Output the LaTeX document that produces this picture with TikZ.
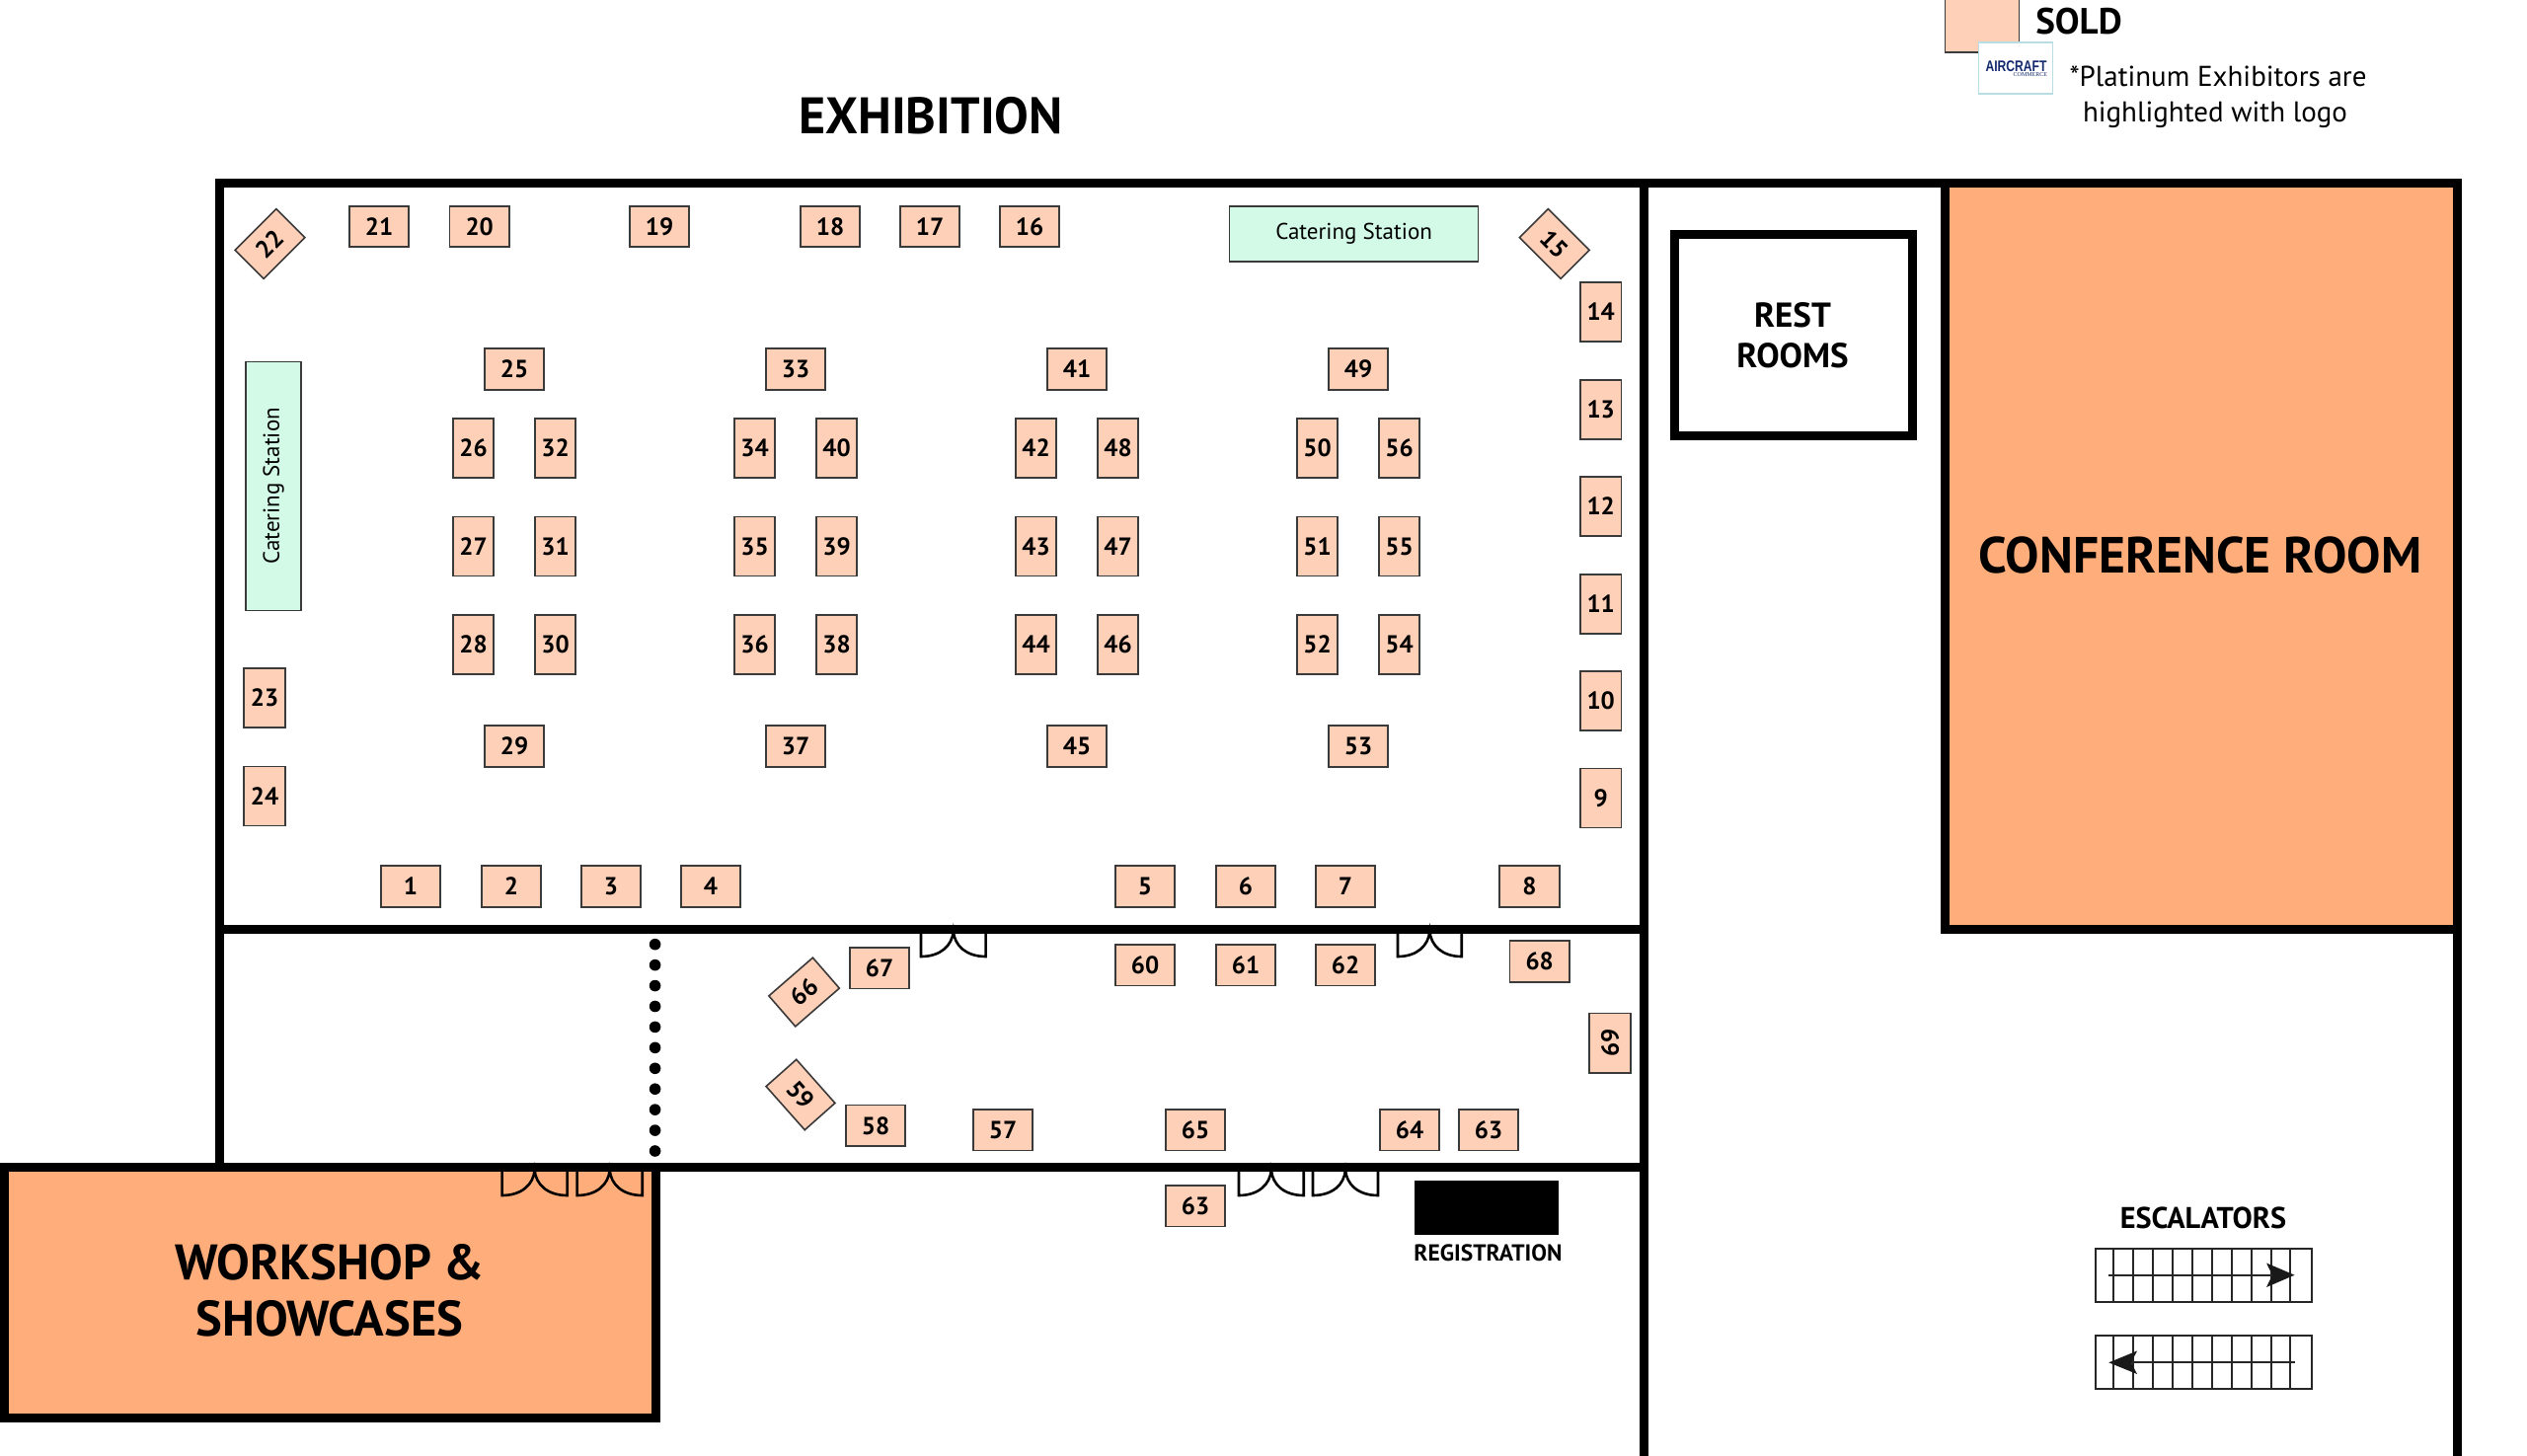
\documentclass[tikz,border=0pt]{standalone}
\usepackage{fontspec}
\setmainfont{PT Sans}
\newfontfamily\logofont[FakeStretch=0.78]{Liberation Sans}
\newfontfamily\logosub{Liberation Serif}
\definecolor{stallfill}{HTML}{FFD0B8}
\definecolor{stalledge}{HTML}{3A3A3A}
\definecolor{cater}{HTML}{D2FAE7}
\definecolor{roomfill}{HTML}{FFAD7A}
\definecolor{logoedge}{HTML}{B8DDE2}
\definecolor{navy}{HTML}{14296E}
\newcommand{\fs}[1]{\fontsize{#1}{#1}\selectfont}
\tikzset{
  every node/.style={inner sep=0pt,outer sep=0pt},
  stall/.style={draw=stalledge,fill=stallfill,line width=1.6pt,font=\fs{25}\bfseries,align=center},
  hstall/.style={stall,minimum width=60.5pt,minimum height=41.5pt},
  vstall/.style={stall,minimum width=41.5pt,minimum height=60pt},
  cstall/.style={stall,minimum width=59pt,minimum height=41pt},
  catering/.style={draw=stalledge,fill=cater,line width=1.6pt,font=\fs{23}},
  wall/.style={draw=black,line width=9pt,line cap=butt,line join=miter},
  door/.style={draw=black,line width=2.6pt,line join=miter},
  escal/.style={draw=black!85,line width=2pt}
}
\newcommand{\doors}[3]{% left, right, bottom; the leaves reach the wall at the top
  \pgfmathsetmacro{\mm}{(#1+#2)/2}
  \pgfmathsetmacro{\rx}{(#2-#1)/2}
  \pgfmathsetmacro{\tp}{#3-26}
  \draw[door] (#1,\tp) -- (#1,#3) .. controls (#1+0.6*\rx,#3) and (\mm-1,#3-11) .. (\mm,\tp)
     .. controls (\mm+1,#3-11) and (#2-0.6*\rx,#3) .. (#2,#3) -- (#2,\tp);
}
\begin{document}
\begin{tikzpicture}[x=1pt,y=-1pt]
\useasboundingbox (0,0) rectangle (2560,1475);
% rooms
\fill[roomfill] (1970,185) rectangle (2489,941.5);
\fill[roomfill] (3,1182.5) rectangle (664,1436);
% walls
\draw[wall] (222,1182.5) -- (222,185) -- (2489,185) -- (2489,1475);
\draw[wall] (1665,185) -- (1665,1475);
\draw[wall] (222,941.5) -- (1665,941.5);
\draw[wall] (1970,185) -- (1970,941.5) -- (2489,941.5);
\draw[wall] (0,1182.5) -- (1665,1182.5);
\draw[wall] (4.3,1178) -- (4.3,1436) -- (664,1436) -- (664,1178);
\draw[wall] (1696.5,237.5) rectangle (1937,441);
% room labels
\node[font=\fs{51.5}\bfseries] (conf) at (2229,562) {CONFERENCE ROOM};
\node[font=\fs{50.5}\bfseries,align=center] (work) at (334,1307.5) {WORKSHOP \&\\[6.5pt]SHOWCASES};
\node[font=\fs{35}\bfseries,align=center] (rest) at (1816,339.5) {REST\\[6pt]ROOMS};
\node[font=\fs{52}\bfseries] (title) at (943,117) {EXHIBITION};
% partition dots
\foreach \i in {0,...,10} \fill[black] (663.6,956.7+\i*20.93) circle (5.8pt);
% doors
\doors{508.6}{574.6}{1211}
\doors{584.6}{650.7}{1211}
\doors{933}{998.6}{969}
\doors{1416}{1480.7}{969}
\doors{1255}{1320.7}{1211}
\doors{1330}{1396}{1211}
% catering
\node[catering,minimum width=252pt,minimum height=56pt] (catertop) at (1371.6,237) {Catering Station};
\node[catering,minimum width=252pt,minimum height=56pt,rotate=90] (caterleft) at (277,492.3) {Catering Station};
% horizontal stalls
\foreach \n/\x/\y in {21/384/229.5,20/485.7/229.5,19/668/229.5,18/841/229.5,17/942/229.5,16/1043/229.5,
  25/521/374,33/806/374,41/1091/374,49/1376/374,
  29/521/756,37/806/756,45/1091/756,53/1376/756,
  1/416/898,2/518/898,3/619/898,4/720/898,5/1160/898,6/1262/898,7/1363/898,8/1549.5/898,
  60/1160/977.7,61/1262/977.7,62/1363/977.7,68/1559.7/974,67/891/980.7,
  58/887/1140.3,57/1016/1144.7,65/1211/1144.7,64/1428/1144.7,63/1508/1144.7}
  \node[hstall] (s\n) at (\x,\y) {\n};
\node[hstall] (s63b) at (1211,1221.7) {63};
% vertical stalls
\foreach \n/\x/\y in {26/479.5/454,27/479.5/553.5,28/479.5/653,32/562.5/454,31/562.5/553.5,30/562.5/653,
  34/764.5/454,35/764.5/553.5,36/764.5/653,40/847.5/454,39/847.5/553.5,38/847.5/653,
  42/1049.5/454,43/1049.5/553.5,44/1049.5/653,48/1132.5/454,47/1132.5/553.5,46/1132.5/653,
  50/1334.5/454,51/1334.5/553.5,52/1334.5/653,56/1417.5/454,55/1417.5/553.5,54/1417.5/653,
  14/1621.7/316,13/1621.7/415,12/1621.7/513,11/1621.7/612,10/1621.7/710,9/1621.7/808.5,
  23/268/707,24/268/806.5}
  \node[vstall] (s\n) at (\x,\y) {\n};
\node[hstall,rotate=90] (s69) at (1631,1056.7) {69};
% rotated stalls
\node[cstall,rotate=45] (s22) at (273.5,247) {22};
\node[cstall,rotate=-45] (s15) at (1574.8,247) {15};
\node[cstall,rotate=41] (s66) at (814.6,1005) {66};
\node[cstall,rotate=-48.4] (s59) at (811,1109) {59};
% registration
\fill[black] (1433,1196) rectangle (1578.6,1251);
\node[font=\fs{23.5}\bfseries] (reg) at (1507.5,1269) {REGISTRATION};
% legend
\draw[draw=stalledge,fill=stallfill,line width=1.8pt] (1970.5,-2) rectangle (2045.5,53);
\node[draw=logoedge,fill=white,line width=1.6pt,minimum width=75pt,minimum height=52pt] (logo) at (2042,69) {};
\node[font=\logofont\bfseries\fs{15.5},text=navy] (logoa) at (2042.5,67) {AIRCRAFT};
\node[font=\logosub\fs{6},text=navy,anchor=east] (logob) at (2074,75.5) {COMMERCE};
\node[font=\fs{37}\bfseries] (sold) at (2106,21.5) {SOLD};
\node[font=\fs{29}] (pa) at (2247,77) {*Platinum Exhibitors are};
\node[font=\fs{29}] (pb) at (2244,116) {highlighted with logo};
% escalators
\node[font=\fs{30.3}\bfseries] (esc) at (2232,1234) {ESCALATORS};
\draw[escal] (2122.7,1264.7) rectangle (2342,1319);
\draw[escal] (2122.7,1353) rectangle (2342,1407.3);
\foreach \i in {0,...,9} {
  \draw[escal] (2141.3+\i*19.9,1264.7) -- (2141.3+\i*19.9,1319);
  \draw[escal] (2141.3+\i*19.9,1353) -- (2141.3+\i*19.9,1407.3);
}
\draw[escal] (2136,1291.7) -- (2305,1291.7);
\fill[black!90] (2324.5,1291.7) -- (2296,1279.5) -- (2302,1291.7) -- (2296,1304) -- cycle;
\draw[escal] (2325,1380.3) -- (2155,1380.3);
\fill[black!90] (2136.3,1380.3) -- (2165,1368.5) -- (2159,1380.3) -- (2165,1392) -- cycle;
\end{tikzpicture}
\end{document}
